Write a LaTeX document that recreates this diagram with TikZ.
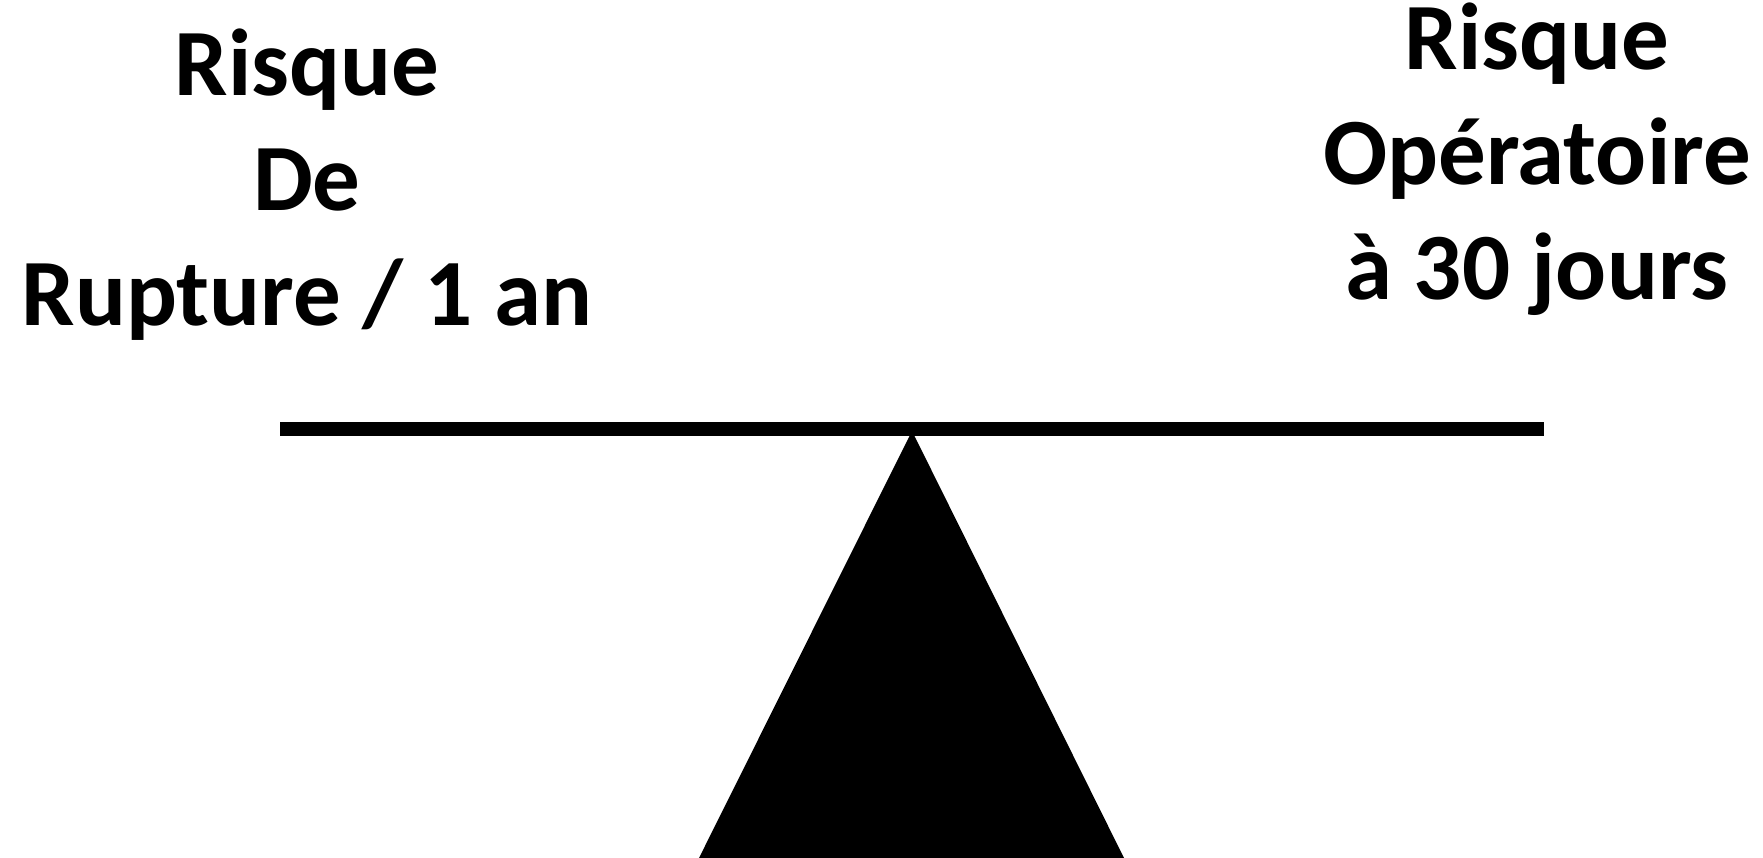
\documentclass[tikz,border=0pt]{standalone}
\usepackage{fontspec}
\setmainfont{Carlito}
\tikzset{
  lbl/.style={font=\fontsize{95}{115}\selectfont\bfseries, align=center, inner sep=0pt, anchor=base},
  solid black/.style={fill=black, draw=none}
}
\begin{document}
\begin{tikzpicture}[x=1pt,y=-1pt]
\useasboundingbox (0,0) rectangle (1763,858);
\node[lbl] (left) at (307,326) {Risque\\De\\Rupture / 1 an};
\node[lbl] (right) at (1537,300) {Risque\\Opératoire\\à 30 jours};
\path[solid black] (280,422) rectangle (1544,436);
\coordinate (beam) at (912,429);
\path[solid black] (912,431) -- (699,858) -- (1124,858) -- cycle;
\end{tikzpicture}
\end{document}
